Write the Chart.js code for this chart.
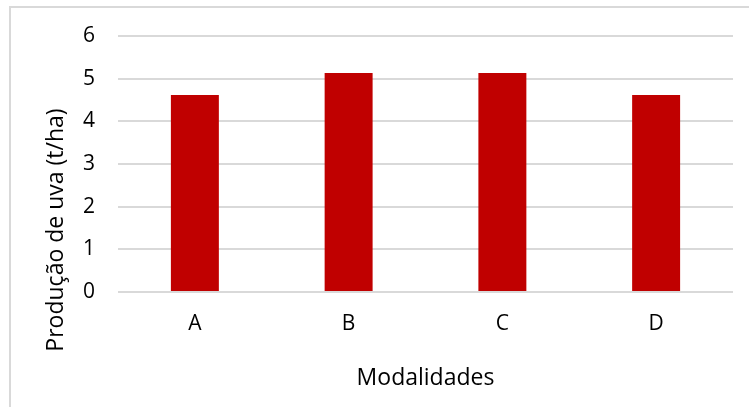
<!DOCTYPE html>
<html>
<head>
<meta charset="utf-8">
<script src="https://cdn.jsdelivr.net/npm/chart.js@4"></script>
<style>
  html, body { margin: 0; padding: 0; background: #fff; }
  #wrap { position: relative; width: 749px; height: 407px; overflow: hidden; }
  #frame { position: absolute; left: 9px; top: 6px; width: 800px; height: 450px; border: 2px solid #d9d9d9; box-sizing: border-box; }
  canvas { position: absolute; left: 0; top: 0; }
</style>
</head>
<body>
<div id="wrap">
  <div id="frame"></div>
  <canvas id="chart" width="749" height="407"></canvas>
</div>
<script>
const categories = ['A', 'B', 'C', 'D'];
const producao = [4.62, 5.13, 5.13, 4.62];
const yTicks = [0, 1, 2, 3, 4, 5, 6];
const xTitle = 'Modalidades';
const yTitle = 'Produção de uva (t/ha)';

const fontFamily = '"Open Sans", "Liberation Sans", sans-serif';

// titulos dos eixos desenhados a mao para acertar a posicao
const axisTitles = {
    id: 'axisTitles',
    afterDraw(chart) {
        const ctx = chart.ctx;
        ctx.save();
        ctx.fillStyle = '#000';
        ctx.font = '23px ' + fontFamily;
        ctx.textAlign = 'center';
        ctx.textBaseline = 'middle';
        ctx.fillText(xTitle, (chart.chartArea.left + chart.chartArea.right) / 2, 378);
        ctx.translate(56, 230);
        ctx.rotate(-Math.PI / 2);
        ctx.fillText(yTitle, 0, 0);
        ctx.restore();
    }
};

new Chart(document.getElementById('chart').getContext('2d'), {
    type: 'bar',
    data: {
        labels: categories,
        datasets: [{
            data: producao,
            backgroundColor: '#c00000',
            borderWidth: 0,
            barPercentage: 0.312,
            categoryPercentage: 1
        }]
    },
    options: {
        responsive: false,
        animation: false,
        layout: { padding: { left: 0, right: 16, top: 36, bottom: 0 } },
        plugins: {
            legend: { display: false },
            tooltip: { enabled: false }
        },
        scales: {
            x: {
                grid: { display: false, drawTicks: false },
                border: { display: false },
                ticks: { color: '#000', font: { size: 21, family: fontFamily }, padding: 19 },
                afterFit(scale) { scale.height = 115; }
            },
            y: {
                min: 0,
                max: 6,
                afterBuildTicks(scale) { scale.ticks = yTicks.map(v => ({ value: v })); },
                grid: { color: '#d9d9d9', lineWidth: 2, drawTicks: false },
                border: { display: false },
                ticks: { color: '#000', font: { size: 21, family: fontFamily }, padding: 23 },
                afterFit(scale) { scale.width = 118; }
            }
        }
    },
    plugins: [axisTitles]
});
</script>
</body>
</html>
